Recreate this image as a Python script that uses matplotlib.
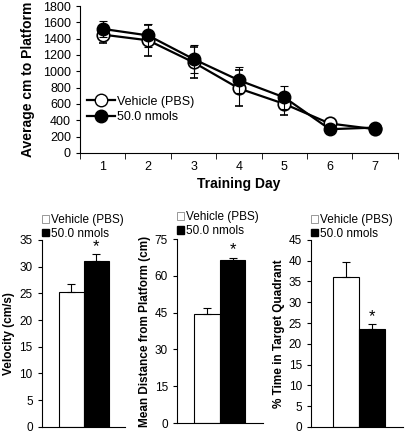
import numpy as np
import matplotlib
matplotlib.use("Agg")
import matplotlib.pyplot as plt
from matplotlib.lines import Line2D
from matplotlib.patches import Patch

plt.rcParams['font.family'] = ['Liberation Sans', 'DejaVu Sans']

# top panel data
days = [1, 2, 3, 4, 5, 6, 7]
veh_dist = [1450, 1380, 1110, 790, 600, 360, 290]
veh_err = [100, 190, 190, 220, 130, 20, 20]
nmol_dist = [1520, 1440, 1150, 890, 680, 290, 310]
nmol_err = [100, 140, 170, 160, 140, 20, 20]

# bottom panels: (vehicle, 50 nmol)
velocity = [25.2, 31.1]
velocity_err = [1.5, 1.3]
mean_dist = [44.5, 66.5]
mean_dist_err = [2.5, 0.7]
pct_time = [36.0, 23.5]
pct_time_err = [3.6, 1.3]

groups = ['Vehicle (PBS)', '50.0 nmols']

fig = plt.figure(figsize=(4.06, 4.33), dpi=100)

# ---- top line chart
ax = fig.add_axes([0.197, 0.647, 0.783, 0.339])
ax.errorbar(days, veh_dist, yerr=veh_err, color='black', lw=1.6, marker='o',
            ms=9, mfc='white', mec='black', mew=1.2, capsize=3, elinewidth=0.8,
            capthick=0.8, zorder=3)
ax.errorbar(days, nmol_dist, yerr=nmol_err, color='black', lw=1.6, marker='o',
            ms=9, mfc='black', mec='black', capsize=3, elinewidth=0.8,
            capthick=0.8, zorder=4)
ax.set_xlim(0.5, 7.5)
ax.set_ylim(0, 1800)
ax.set_yticks(np.arange(0, 1801, 200))
ax.set_xticks(days)
ax.set_xticks(np.arange(0.5, 7.6, 1), minor=True)
ax.tick_params(axis='x', which='major', length=0, labelsize=9, pad=6)
ax.tick_params(axis='x', which='minor', length=4, direction='out')
ax.tick_params(axis='y', length=3, direction='out', labelsize=9)
for s in ['top', 'right']:
    ax.spines[s].set_visible(False)
ax.set_xlabel('Training Day', fontsize=10, fontweight='bold', labelpad=3)
ax.set_ylabel('Average cm to Platform', fontsize=10, fontweight='bold', labelpad=6)
handles = [Line2D([0], [0], color='black', lw=1.6, marker='o', ms=9,
                  mfc='white', mec='black'),
           Line2D([0], [0], color='black', lw=1.6, marker='o', ms=9,
                  mfc='black', mec='black')]
ax.legend(handles, groups, loc='lower left', bbox_to_anchor=(0.0, 0.15),
          frameon=False, fontsize=9, handlelength=2.2, handletextpad=0.2,
          labelspacing=0.3, borderaxespad=0.2)


def bar_panel(rect, vals, errs, ymax, step, ylabel, xlim, star_y, leg_y):
    a = fig.add_axes(rect)
    a.bar([0, 1], vals, width=1.0, color=['white', 'black'],
          edgecolor='black', linewidth=0.8)
    for i in range(2):
        a.errorbar(i, vals[i], yerr=[[0], [errs[i]]], color='black',
                   elinewidth=0.8, capsize=3, capthick=0.8)
    a.text(1, star_y, '*', ha='center', va='center', fontsize=12)
    a.set_xlim(*xlim)
    a.set_ylim(0, ymax)
    a.set_yticks(np.arange(0, ymax + 0.1, step))
    a.set_xticks([])
    a.tick_params(axis='y', length=3, direction='out', labelsize=8.5)
    for s in ['top', 'right']:
        a.spines[s].set_visible(False)
    a.set_ylabel(ylabel, fontsize=8.5, fontweight='bold', labelpad=3)
    h = [Patch(facecolor='white', edgecolor='#888888', lw=0.6),
         Patch(facecolor='black', edgecolor='black')]
    a.legend(h, groups, loc='lower left', bbox_to_anchor=(0.0, leg_y),
             frameon=False, fontsize=8.5, handlelength=0.6, handleheight=0.6,
             handletextpad=0.2, labelspacing=0.15, borderaxespad=0.0,
             borderpad=0.0)
    return a


bar_panel([0.103, 0.014, 0.204, 0.432], velocity, velocity_err, 35, 5,
          'Velocity (cm/s)', (-1.2, 2.15), 33.8, 1.0)
bar_panel([0.436, 0.023, 0.212, 0.425], mean_dist, mean_dist_err, 75, 15,
          'Mean Distance from Platform (cm)', (-1.18, 2.2), 70.5, 1.01)
bar_panel([0.766, 0.014, 0.227, 0.432], pct_time, pct_time_err, 45, 5,
          '% Time in Target Quadrant', (-1.35, 2.19), 26.6, 1.0)

fig.savefig('out.png', dpi=100)
